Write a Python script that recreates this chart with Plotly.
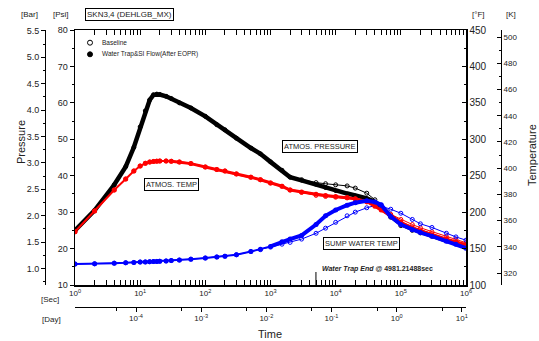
import math
import plotly.graph_objects as go

# ---------------- data ----------------
TIME_SEC = [1, 2, 4, 6, 8, 10, 12, 14, 16, 18, 20, 25, 30, 40, 60, 100, 150, 200, 300, 500,
            700, 1000, 1500, 2000, 3000, 5000, 7000, 10000, 15000, 20000, 30000, 40000, 50000,
            70000, 100000, 150000, 200000, 300000, 500000, 700000, 1000000]

# Water Trap & SI Flow (After EOPR)
PRESS_WT = [25.0, 30.5, 37.5, 42.5, 47.8, 53.4, 57.8, 60.8, 62.2, 62.4, 62.3, 61.8, 61.2, 60.0,
            58.6, 56.3, 54.0, 52.6, 50.3, 47.6, 46.0, 43.8, 41.5, 39.6, 38.7, 37.5, 36.6, 35.8,
            35.1, 34.6, 33.8, 32.8, 31.5, 28.9, 26.8, 25.4, 24.6, 23.5, 22.2, 21.5, 20.7]
ATMOS_T_WT = [173, 201.6, 230.4, 245.5, 256.5, 263.3, 267, 268.8, 269.6, 270, 270.2, 270.2, 269.8,
              268.8, 266.6, 262, 258.5, 256.5, 252.5, 248, 244.5, 240, 235.5, 230.4, 227.5, 224.5,
              223, 221.5, 220, 218.5, 214.5, 208, 203, 195, 186, 178.5, 174.5, 169, 163, 159, 155]
SUMP_T_WT = [128.8, 129, 130, 130.5, 131, 131.5, 131.7, 132, 132.2, 132.4, 132.6, 133, 133.5,
             134.2, 135.5, 137, 138.5, 139.5, 141.5, 146, 149, 153, 159.5, 163, 168, 183, 195,
             203, 209.5, 213, 215.5, 214, 210, 194, 183, 176, 172, 167, 160, 156, 150.5]

# Baseline
PRESS_BL = [25.0, 30.5, 37.5, 42.5, 47.8, 53.4, 57.8, 60.8, 62.2, 62.4, 62.3, 61.8, 61.2, 60.0,
            58.6, 56.3, 54.0, 52.6, 50.3, 47.6, 46.0, 43.8, 41.5, 39.6, 38.9, 38.1, 37.8, 37.5,
            37.2, 36.6, 35.2, 33.4, 31.6, 28.6, 26.3, 25.0, 24.3, 23.4, 22.3, 21.7, 21.0]
ATMOS_T_BL = [173, 201.6, 230.4, 245.5, 256.5, 263.3, 267, 268.8, 269.6, 270, 270.2, 270.2, 269.8,
              268.8, 266.6, 262, 258.5, 256.5, 252.5, 248, 244.5, 240, 235.5, 230.4, 227, 223,
              221.5, 220.5, 219.5, 218, 214, 209, 205, 197, 190, 183, 178.5, 173, 166.5, 162.5, 158]
SUMP_T_BL = [128.8, 129, 130, 130.5, 131, 131.5, 131.7, 132, 132.2, 132.4, 132.6, 133, 133.5,
             134.2, 135.5, 137, 138.5, 139.5, 141.5, 146, 148.5, 152, 156, 158.5, 163, 171, 178,
             186, 195, 200, 206, 209, 208, 204, 198.5, 190, 184, 179, 171, 166, 161.5]

WATER_TRAP_END = 4981.21488

SEC_TICKS = [1, 10, 100, 1000, 10000, 100000, 1000000]
SEC_LABELS = ["10<sup>0</sup>", "10<sup>1</sup>", "10<sup>2</sup>", "10<sup>3</sup>",
              "10<sup>4</sup>", "10<sup>5</sup>", "10<sup>6</sup>"]
DAY_TICKS = [1e-4, 1e-3, 1e-2, 1e-1, 1, 10]
DAY_LABELS = ["10<sup>-4</sup>", "10<sup>-3</sup>", "10<sup>-2</sup>", "10<sup>-1</sup>",
              "10<sup>0</sup>", "10<sup>1</sup>"]
BAR_TICKS = [1.0, 1.5, 2.0, 2.5, 3.0, 3.5, 4.0, 4.5, 5.0, 5.5]
PSI_TICKS = [10, 20, 30, 40, 50, 60, 70, 80]
F_TICKS = [100, 150, 200, 250, 300, 350, 400, 450]
K_TICKS = [320, 340, 360, 380, 400, 420, 440, 460, 480, 500]

PSI_RANGE = [10, 80]
F_RANGE = [100, 450]
PSI_PER_BAR = 14.5038
SEC_PER_DAY = 86400.0

# ---------------- layout geometry ----------------
W, H = 539, 341
PX_L, PX_R, PX_T, PX_B = 75, 466, 30, 285


def px(x):
    return x / W


def py(y):
    return 1 - y / H


FONT = "Liberation Sans, Arial, sans-serif"
BLACK = "#000000"
RED = "#ff0000"
BLUE = "#0000ff"
TXT = "#222222"

fig = go.Figure()

# baseline traces (open circles)
fig.add_trace(go.Scatter(x=TIME_SEC, y=PRESS_BL, mode="lines+markers", yaxis="y",
                         line=dict(color=BLACK, width=1),
                         marker=dict(symbol="circle-open", size=4, color=BLACK, line=dict(width=1)),
                         showlegend=False))
fig.add_trace(go.Scatter(x=TIME_SEC, y=ATMOS_T_BL, mode="lines+markers", yaxis="y2",
                         line=dict(color=RED, width=1),
                         marker=dict(symbol="circle-open", size=4, color=RED, line=dict(width=1)),
                         showlegend=False))
fig.add_trace(go.Scatter(x=TIME_SEC, y=SUMP_T_BL, mode="lines+markers", yaxis="y2",
                         line=dict(color=BLUE, width=1),
                         marker=dict(symbol="circle-open", size=4, color=BLUE, line=dict(width=1)),
                         showlegend=False))

# water trap traces (filled circles)
fig.add_trace(go.Scatter(x=TIME_SEC, y=PRESS_WT, mode="lines+markers", yaxis="y",
                         line=dict(color=BLACK, width=4.5),
                         marker=dict(symbol="circle", size=4, color=BLACK),
                         showlegend=False))
fig.add_trace(go.Scatter(x=TIME_SEC, y=ATMOS_T_WT, mode="lines+markers", yaxis="y2",
                         line=dict(color=RED, width=2),
                         marker=dict(symbol="circle", size=5, color=RED),
                         showlegend=False))
late_r = [i for i, t in enumerate(TIME_SEC) if t >= 30]
fig.add_trace(go.Scatter(x=[TIME_SEC[i] for i in late_r], y=[ATMOS_T_WT[i] for i in late_r],
                         mode="lines", yaxis="y2", line=dict(color=RED, width=3),
                         showlegend=False))
fig.add_trace(go.Scatter(x=TIME_SEC, y=SUMP_T_WT, mode="lines+markers", yaxis="y2",
                         line=dict(color=BLUE, width=2),
                         marker=dict(symbol="circle", size=5, color=BLUE),
                         showlegend=False))
late_b = [i for i, t in enumerate(TIME_SEC) if t >= 1000]
fig.add_trace(go.Scatter(x=[TIME_SEC[i] for i in late_b], y=[SUMP_T_WT[i] for i in late_b],
                         mode="lines", yaxis="y2", line=dict(color=BLUE, width=4),
                         showlegend=False))

# invisible traces so the companion axes are drawn
fig.add_trace(go.Scatter(x=[None], y=[None], yaxis="y3", showlegend=False))
fig.add_trace(go.Scatter(x=[None], y=[None], yaxis="y4", showlegend=False))
fig.add_trace(go.Scatter(x=[None], y=[None], xaxis="x2", showlegend=False))


def minor_log(lo_exp, hi_exp, mults):
    out = []
    for e in range(lo_exp, hi_exp + 1):
        for m in mults:
            out.append(m * 10 ** e)
    return out


sec_minor = [v for v in minor_log(0, 5, [2, 3, 4, 5, 6, 7, 8, 9]) if v <= 1e6]
day_minor = [v for v in minor_log(-5, 1, [5]) if 1 / SEC_PER_DAY <= v <= 1e6 / SEC_PER_DAY]

tickfont = dict(family=FONT, size=9, color=TXT)
supfont = dict(family=FONT, size=8, color=TXT)

xdom = [px(PX_L), px(PX_R)]
ydom = [py(PX_B), py(PX_T)]

k_lo = (F_RANGE[0] - 32) * 5 / 9 + 273.15
k_hi = (F_RANGE[1] - 32) * 5 / 9 + 273.15

common = dict(showgrid=False, zeroline=False, automargin=False)

fig.update_layout(
    template="none",
    width=W, height=H,
    margin=dict(l=0, r=0, t=0, b=0, pad=0, autoexpand=False),
    paper_bgcolor="white", plot_bgcolor="white",
    font=dict(family=FONT, size=9, color=TXT),
    showlegend=False,
    hovermode=False,
    xaxis=dict(type="log", domain=xdom, range=[0, 6], anchor="y",
               showline=True, linecolor=BLACK, linewidth=1.5, mirror="allticks",
               ticks="inside", ticklen=5, tickcolor=BLACK, tickwidth=1,
               tickvals=SEC_TICKS, ticktext=SEC_LABELS, tickfont=supfont,
               minor=dict(tickvals=sec_minor, ticks="inside", ticklen=3, tickcolor=BLACK),
               **common),
    xaxis2=dict(type="log", domain=xdom, overlaying="x", anchor="free", position=py(306.5),
                side="bottom",
                range=[math.log10(1 / SEC_PER_DAY), math.log10(1e6 / SEC_PER_DAY)],
                showline=True, linecolor=BLACK, linewidth=1,
                ticks="outside", ticklen=4, tickcolor=BLACK,
                tickvals=DAY_TICKS, ticktext=DAY_LABELS, tickfont=supfont,
                minor=dict(tickvals=day_minor, ticks="outside", ticklen=3, tickcolor=BLACK),
                **common),
    yaxis=dict(domain=ydom, range=PSI_RANGE, anchor="x", side="left",
               showline=True, linecolor=BLACK, linewidth=1.5,
               ticks="outside", ticklen=4, tickcolor=BLACK,
               tickvals=PSI_TICKS, tickfont=tickfont,
               minor=dict(dtick=5, ticks="outside", ticklen=2, tickcolor=BLACK),
               **common),
    yaxis2=dict(domain=ydom, range=F_RANGE, overlaying="y", anchor="x", side="right",
                showline=True, linecolor=BLACK, linewidth=1.5,
                ticks="inside", ticklen=4, tickcolor=BLACK,
                tickvals=F_TICKS, tickfont=dict(family=FONT, size=10, color=TXT),
                minor=dict(dtick=25, ticks="inside", ticklen=2, tickcolor=BLACK),
                **common),
    yaxis3=dict(domain=ydom, range=[PSI_RANGE[0] / PSI_PER_BAR, PSI_RANGE[1] / PSI_PER_BAR],
                overlaying="y", anchor="free", position=px(45), side="left",
                showline=True, linecolor=BLACK, linewidth=1,
                ticks="outside", ticklen=4, tickcolor=BLACK,
                tickvals=BAR_TICKS, tickformat=".1f", tickfont=tickfont,
                minor=dict(dtick=0.25, tick0=0, ticks="outside", ticklen=2, tickcolor=BLACK),
                **common),
    yaxis4=dict(domain=ydom, range=[k_lo, k_hi],
                overlaying="y", anchor="free", position=px(501), side="right",
                showline=True, linecolor=BLACK, linewidth=1,
                ticks="inside", ticklen=4, tickcolor=BLACK,
                tickvals=K_TICKS, tickfont=dict(family=FONT, size=8, color=TXT),
                minor=dict(dtick=10, tick0=0, ticks="inside", ticklen=2, tickcolor=BLACK),
                **common),
)

ann = []


def label(x, y, text, size=8, xanchor="center", **kw):
    d = dict(x=px(x), y=py(y), xref="paper", yref="paper", text=text, showarrow=False,
             xanchor=xanchor, yanchor="middle",
             font=dict(family=FONT, size=size, color=TXT))
    d.update(kw)
    ann.append(d)


label(29, 15, "[Bar]")
label(61, 15, "[Psi]")
label(478, 15, "[°F]")
label(511, 15, "[K]")
label(129.5, 15, "SKN3,4 (DEHLGB_MX)", size=8, bordercolor=BLACK, borderwidth=1, borderpad=1,
      bgcolor="white")
label(21, 142, "Pressure", size=11, textangle=-90)
label(532, 155, "Temperature", size=11, textangle=-90)
label(270, 334, "Time", size=11)
label(50, 299, "[Sec]", size=8)
label(51, 319, "[Day]", size=8)

# legend
label(100, 42.7, "Baseline", size=6.5, xanchor="left")
label(100, 54.3, "Water Trap&amp;SI Flow(After EOPR)", size=6.5, xanchor="left")

# boxed curve labels
for (cx, cy, t) in [(320, 146, "ATMOS. PRESSURE"), (171, 184, "ATMOS. TEMP"),
                    (361, 243, "SUMP WATER TEMP")]:
    label(cx, cy, t, size=7.5, bordercolor=BLACK, borderwidth=1, borderpad=1, bgcolor="white")

label(320, 269, "<b><i>Water Trap End</i> @ 4981.21488sec</b>", size=7, xanchor="left")

fig.update_layout(annotations=ann)

shapes = [
    dict(type="circle", xref="paper", yref="paper",
         x0=px(87.5), x1=px(92.5), y0=py(45.2), y1=py(40.2),
         line=dict(color=BLACK, width=1), fillcolor="white"),
    dict(type="circle", xref="paper", yref="paper",
         x0=px(87.5), x1=px(92.5), y0=py(56.8), y1=py(51.8),
         line=dict(color=BLACK, width=1), fillcolor=BLACK),
    dict(type="line", xref="x", yref="paper", x0=WATER_TRAP_END, x1=WATER_TRAP_END,
         y0=py(272), y1=py(285), line=dict(color=BLACK, width=1)),
]
fig.update_layout(shapes=shapes)

fig.write_html("out.html",
               config={"displayModeBar": False, "staticPlot": True},
               post_script="document.body.style.margin='0px';"
                           "document.body.style.overflow='hidden';")
